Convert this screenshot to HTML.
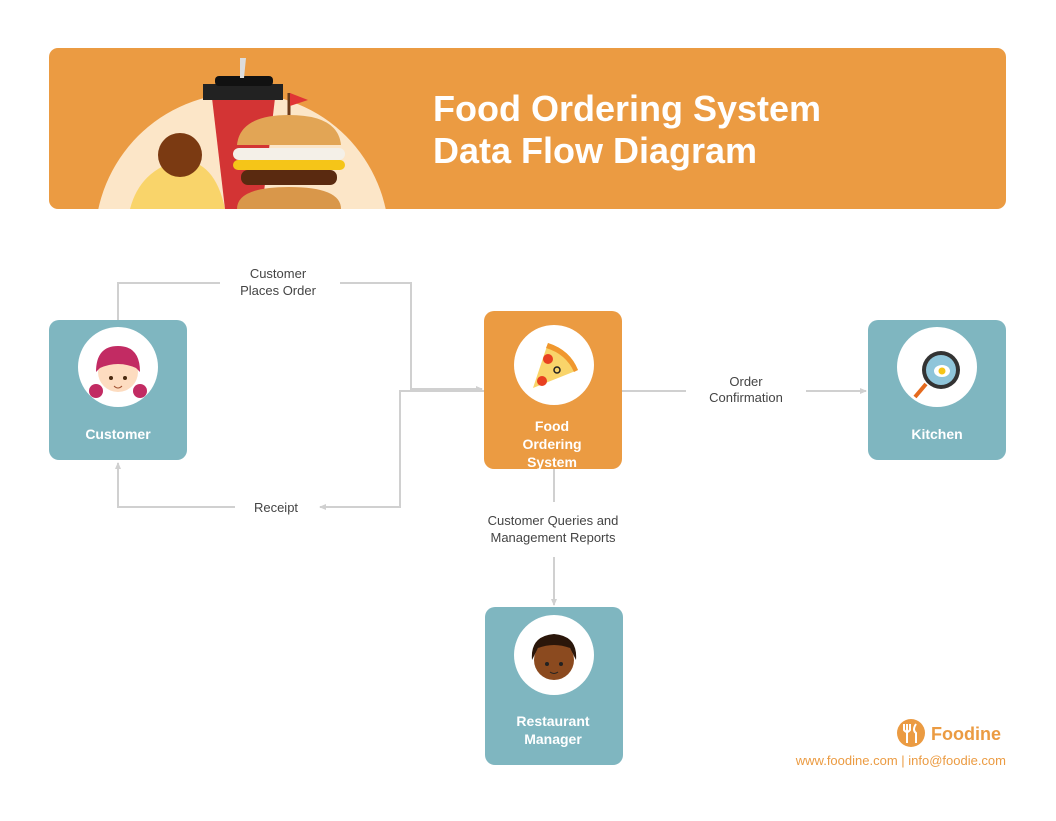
<!DOCTYPE html>
<html><head><style>
body{margin:0;width:1056px;height:816px;background:#fff;font-family:"Liberation Sans",sans-serif;overflow:hidden}
</style></head><body>
<svg width="1056" height="816" xmlns="http://www.w3.org/2000/svg" font-family="Liberation Sans, sans-serif">
<defs><clipPath id="hc"><rect x="49" y="48" width="957" height="161" rx="9"/></clipPath>
<marker id="ar" markerWidth="8" markerHeight="8" refX="6" refY="4" orient="auto" markerUnits="userSpaceOnUse"><path d="M0,1 L7,4 L0,7 z" fill="#d0d0d0"/></marker></defs>
<rect x="49" y="48" width="957" height="161" rx="9" fill="#EB9B42"/>
<g clip-path="url(#hc)">
<circle cx="242" cy="240" r="147" fill="#FCE6C8"/>
<path d="M130,209 Q140,170 180,160 Q215,160 225,209z" fill="#F9D46A"/>
<circle cx="180" cy="155" r="22" fill="#7B3A12"/>
<path d="M212,98 L275,98 L262,209 L225,209z" fill="#D33434"/>
<rect x="203" y="84" width="80" height="16" fill="#222"/>
<rect x="215" y="76" width="58" height="10" rx="4" fill="#111"/>
<path d="M240,58 L246,58 L244,78 L240,78z" fill="#ddd"/>
<line x1="289" y1="93" x2="289" y2="120" stroke="#6b3a1a" stroke-width="3"/>
<path d="M290,93 L308,100 L290,106z" fill="#E03535"/>
<path d="M237,145 Q240,115 289,115 Q338,115 341,145z" fill="#E2A555"/>
<rect x="233" y="148" width="112" height="12" rx="6" fill="#F4F0E8"/>
<rect x="233" y="160" width="112" height="10" rx="5" fill="#F5C518"/>
<rect x="241" y="170" width="96" height="15" rx="7" fill="#5A2A10"/>
<path d="M237,209 Q237,187 289,187 Q341,187 341,209z" fill="#D9974A"/>
</g>
<text x="433" y="121" fill="#fff" font-size="36" font-weight="bold">Food Ordering System</text>
<text x="433" y="163" fill="#fff" font-size="36" font-weight="bold">Data Flow Diagram</text>

<g fill="none" stroke="#d0d0d0" stroke-width="2">
<polyline points="118,320 118,283 220,283"/>
<polyline points="340,283 411,283 411,389 482,389" marker-end="url(#ar)"/>
<polyline points="484,391 400,391 400,507 320,507" marker-end="url(#ar)"/>
<polyline points="235,507 118,507 118,463" marker-end="url(#ar)"/>
<polyline points="622,391 686,391"/>
<polyline points="806,391 866,391" marker-end="url(#ar)"/>
<polyline points="554,469 554,502"/>
<polyline points="554,557 554,605" marker-end="url(#ar)"/>
</g>
<g font-size="13" fill="#444" text-anchor="middle">
<text x="278" y="278">Customer</text><text x="278" y="295">Places Order</text>
<text x="276" y="512">Receipt</text>
<text x="746" y="386">Order</text><text x="746" y="402">Confirmation</text>
<text x="553" y="525">Customer Queries and</text><text x="553" y="542">Management Reports</text>
</g>

<rect x="49" y="320" width="138" height="140" rx="10" fill="#7FB6C0"/>
<rect x="484" y="311" width="138" height="158" rx="10" fill="#EB9B42"/>
<rect x="868" y="320" width="138" height="140" rx="10" fill="#7FB6C0"/>
<rect x="485" y="607" width="138" height="158" rx="10" fill="#7FB6C0"/>
<circle cx="118" cy="367" r="40" fill="#fff"/>
<circle cx="554" cy="365" r="40" fill="#fff"/>
<circle cx="937" cy="367" r="40" fill="#fff"/>
<circle cx="554" cy="655" r="40" fill="#fff"/>
<circle cx="96" cy="391" r="7" fill="#C22B63"/><circle cx="140" cy="391" r="7" fill="#C22B63"/>
<circle cx="118" cy="372" r="20" fill="#FDDCC0"/>
<path d="M96,372 Q96,346 118,346 Q140,346 140,372 L136,368 Q118,360 100,368z" fill="#C22B63"/>
<circle cx="111" cy="378" r="2" fill="#4a2a10"/><circle cx="125" cy="378" r="2" fill="#4a2a10"/>
<path d="M114,386 Q118,390 122,386" stroke="#a05030" fill="none"/>
<path d="M533,388 L548,343 Q570,350 578,370z" fill="#F9D46A"/>
<path d="M548,343 Q570,350 578,370 L574,372 Q566,354 546,348z" fill="#F0972E"/>
<circle cx="548" cy="359" r="5" fill="#E84020"/><circle cx="542" cy="381" r="5" fill="#E84020"/>
<circle cx="557" cy="370" r="3" fill="none" stroke="#222" stroke-width="1.5"/>
<circle cx="941" cy="370" r="19" fill="#333"/><circle cx="941" cy="370" r="15" fill="#8FC5DA"/>
<ellipse cx="942" cy="371" rx="8" ry="6" fill="#fff"/><circle cx="942" cy="371" r="3.5" fill="#F5C518"/>
<line x1="926" y1="384" x2="915" y2="397" stroke="#E56A1E" stroke-width="4"/>
<circle cx="554" cy="660" r="20" fill="#8B4A1F"/>
<path d="M532,660 Q530,636 554,634 Q578,636 576,660 L570,648 Q554,642 538,648z" fill="#2A160A"/>
<circle cx="547" cy="664" r="2" fill="#222"/><circle cx="561" cy="664" r="2" fill="#222"/>
<path d="M550,672 Q554,675 558,672" stroke="#222" fill="none"/>

<g fill="#fff" font-size="14" font-weight="600" text-anchor="middle">
<text x="118" y="439">Customer</text>
<text x="552" y="431">Food</text><text x="552" y="449">Ordering</text><text x="552" y="467">System</text>
<text x="937" y="439">Kitchen</text>
<text x="553" y="726">Restaurant</text><text x="553" y="744">Manager</text>
</g>
<circle cx="911" cy="733" r="14" fill="#EB9B42"/>
<path d="M907,724 L907,743 M904,724 L904,730 Q907,734 910,730 L910,724 M916,724 Q912,730 916,733 L916,743" stroke="#fff" stroke-width="2" fill="none"/>
<text x="931" y="740" font-size="18" font-weight="bold" fill="#EB9B42">Foodine</text>
<text x="1006" y="765" font-size="13" fill="#EB9B42" text-anchor="end">www.foodine.com | info@foodie.com</text>
</svg>
</body></html>
